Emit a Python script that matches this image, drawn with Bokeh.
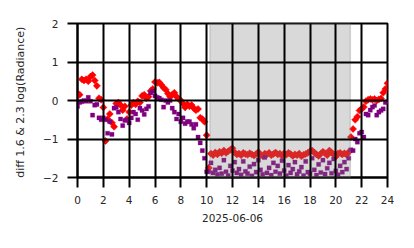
import numpy as np
from bokeh.plotting import figure
from bokeh.models import Range1d, FixedTicker, BoxAnnotation
from bokeh.embed import file_html
from bokeh.resources import INLINE

# 10-minute samples over the day (hours)
red_vals = [
    0.18, 0.15, 0.55, 0.52, 0.55, 0.50, 0.62, 0.66, 0.52, 0.38, 0.06, 0.02,
    -0.18, -1.05, -0.48, -0.35, -0.58, -0.68, -0.08, -0.05, -0.12, -0.25, -0.15, -0.48,
    -0.30, -0.12, -0.06, -0.10, -0.02, -0.05, 0.12, 0.15, 0.06, 0.10, 0.25, 0.30,
    0.48, 0.46, 0.47, 0.40, 0.33, 0.28, 0.18, 0.10, 0.15, 0.20, 0.10, 0.04,
    0.00, -0.08, -0.18, -0.10, -0.15, -0.12, -0.20, -0.25, -0.22, -0.45, -0.48, -0.55,
    -0.90, -1.75,
    -1.38, -1.42, -1.35, -1.40, -1.33, -1.37, -1.30, -1.36, -1.32, -1.28, -1.24, -1.35, -1.40,
    -1.38, -1.42, -1.36, -1.39, -1.41, -1.37, -1.40, -1.43, -1.39, -1.34, -1.41, -1.44, -1.38,
    -1.40, -1.36, -1.42, -1.39, -1.35, -1.40, -1.38, -1.43, -1.37, -1.41, -1.36, -1.39, -1.44,
    -1.40, -1.42, -1.38, -1.45, -1.41, -1.39, -1.36, -1.32, -1.30, -1.35, -1.40, -1.44, -1.38,
    -1.33, -1.37, -1.42, -1.30, -1.35, -1.40, -1.46, -1.38, -1.36, -1.40, -1.37, -1.41, -1.34,
    -0.95, -0.74, -0.50, -0.42, -0.26, -0.22, -0.17, -0.02, 0.02, 0.04, 0.02, 0.04,
    0.00, 0.03, 0.05, 0.20, 0.30, 0.45,
]
purple_vals = [
    -0.15, -0.05, -0.03, 0.00, -0.02, 0.08, -0.02, -0.38, -0.12, -0.10, -0.45, -0.50,
    -0.45, -0.50, -0.85, -0.55, -0.88, -0.20, -0.18, -0.30, -0.48, -0.65, -0.52, -0.50,
    -0.58, -0.45, -0.30, -0.35, -0.50, -0.20, -0.26, -0.36, -0.22, -0.15, 0.20, 0.24,
    0.12, 0.08, 0.06, 0.02, -0.17, 0.00, -0.05, 0.00, -0.20, -0.30, -0.48, -0.35,
    -0.55, -0.45, -0.60, -0.55, -0.55, -0.62, -0.72, -0.62, -0.95, -1.10, -1.30, -1.50,
    -1.85, -1.85,
    -1.62, -1.88, -1.80, -1.92, -1.75, -1.90, -1.55, -1.85, -1.95, -1.70, -1.82, -1.60, -1.88,
    -1.78, -1.93, -1.58, -1.84, -1.90, -1.72, -1.96, -1.65, -1.86, -1.55, -1.80, -1.92, -1.48,
    -1.88, -1.75, -1.94, -1.62, -1.85, -1.70, -1.90, -1.56, -1.82, -1.95, -1.68, -1.88, -1.78,
    -1.60, -1.92, -1.84, -1.73, -1.95, -1.58, -1.86, -1.90, -1.50, -1.80, -1.94, -1.66, -1.87,
    -1.55, -1.91, -1.76, -1.62, -1.89, -1.52, -1.83, -1.93, -1.70, -1.86, -1.60, -1.78, -1.50,
    -1.28, -1.30, -1.00, -1.08, -0.85, -0.82, -0.95, -0.35, -0.38, -0.25, -0.17, -0.13,
    -0.38, -0.30, -0.26, -0.22, -0.05, -0.04,
]
night_start = 10.25
night_end = 21.12
x_ticks = [0, 2, 4, 6, 8, 10, 12, 14, 16, 18, 20, 22, 24]
y_ticks = [-2, -1, 0, 1, 2]
x_label = "2025-06-06"
y_label = "diff 1.6 & 2.3  log(Radiance)"

red_t = [i / 6 for i in range(len(red_vals))]
pur_t = [i / 6 for i in range(len(purple_vals))]

FONT = "DejaVu Sans"
TXT = "#262626"

p = figure(frame_width=310, frame_height=154, output_backend="svg", toolbar_location=None,
           x_range=Range1d(0, 24), y_range=Range1d(-2, 2))
p.min_border_left = 77
p.min_border_right = 27
p.min_border_top = 23
p.min_border_bottom = 0
p.outline_line_color = "black"
p.outline_line_width = 2
p.background_fill_color = "white"
p.border_fill_color = "white"

p.scatter(red_t, red_vals, marker="square", angle=np.pi / 4, size=5.0,
          fill_color="red", line_color="red", line_width=0.5)
p.scatter(pur_t, purple_vals, marker="square", size=4.2,
          fill_color="purple", line_color="purple", line_width=0.3)

box = BoxAnnotation(left=night_start, right=night_end, fill_color="gray", fill_alpha=0.3,
                    line_color="gray", line_alpha=0.3, line_width=1.5)
p.add_layout(box)

p.xaxis.ticker = FixedTicker(ticks=x_ticks)
p.yaxis.ticker = FixedTicker(ticks=y_ticks)
p.yaxis.major_label_overrides = {-2: "\u22122", -1: "\u22121", 0: "0", 1: "1", 2: "2"}

for g in (p.xgrid, p.ygrid):
    g.grid_line_color = "black"
    g.grid_line_width = 2
    g.grid_line_alpha = 1.0
    g.level = "overlay"

for ax in (p.xaxis, p.yaxis):
    ax.axis_line_color = "black"
    ax.axis_line_width = 2
    ax.major_tick_line_color = "black"
    ax.major_tick_line_width = 2
    ax.major_tick_out = 10
    ax.major_tick_in = 0
    ax.minor_tick_line_color = None
    ax.major_label_text_font = FONT
    ax.major_label_text_font_size = "10.5px"
    ax.major_label_text_color = TXT
    ax.axis_label_text_font = FONT
    ax.axis_label_text_font_size = "10.5px"
    ax.axis_label_text_font_style = "normal"
    ax.axis_label_text_color = TXT

p.yaxis.axis_label_text_font_size = "11px"
p.xaxis.axis_label = x_label
p.yaxis.axis_label = y_label
p.xaxis.major_label_standoff = 8
p.yaxis.major_label_standoff = 9
p.xaxis.axis_label_standoff = 7
p.yaxis.axis_label_standoff = 13

open("out.html", "w").write(file_html(p, INLINE))
